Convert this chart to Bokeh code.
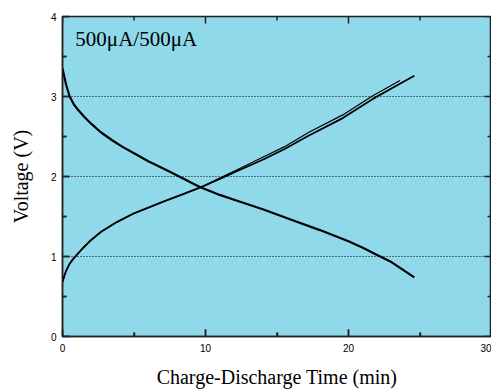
from bokeh.plotting import figure
from bokeh.models import Range1d, Label, FixedTicker
from bokeh.embed import file_html
from bokeh.resources import INLINE

# Discharge curves (time in min, voltage in V)
dis_t = [0.0, 0.1, 0.25, 0.5, 0.8, 1.1, 1.5, 2.0, 2.7, 3.5, 4.2, 5.0, 6.0, 7.4, 8.5, 9.6, 11.0, 12.0, 14.0, 16.0, 18.0, 20.0, 21.0, 22.0, 23.0, 24.0, 24.6]
dis_v = [3.35, 3.27, 3.15, 3.0, 2.9, 2.83, 2.75, 2.66, 2.55, 2.45, 2.37, 2.29, 2.19, 2.07, 1.97, 1.87, 1.77, 1.71, 1.59, 1.46, 1.33, 1.19, 1.11, 1.02, 0.93, 0.81, 0.74]

# Charge curves (two cycles)
ch1_t = [0.0, 0.1, 0.25, 0.5, 0.75, 1.0, 1.4, 1.9, 2.7, 3.8, 5.0, 6.0, 7.1, 8.3, 9.6, 11.0, 12.5, 14.0, 15.5, 17.2, 19.6, 21.7, 23.0, 24.6]
ch1_v = [0.68, 0.74, 0.82, 0.91, 0.97, 1.02, 1.10, 1.19, 1.31, 1.43, 1.54, 1.61, 1.69, 1.77, 1.86, 1.97, 2.09, 2.21, 2.34, 2.51, 2.73, 2.97, 3.10, 3.26]
ch2_t = [0.0, 0.1, 0.25, 0.5, 0.75, 1.0, 1.4, 1.9, 2.7, 3.8, 5.0, 6.0, 7.1, 8.3, 9.6, 11.0, 12.5, 14.0, 15.5, 17.2, 19.6, 21.7, 23.6]
ch2_v = [0.68, 0.74, 0.82, 0.91, 0.97, 1.02, 1.10, 1.19, 1.31, 1.43, 1.54, 1.61, 1.69, 1.77, 1.86, 1.98, 2.11, 2.24, 2.37, 2.55, 2.77, 3.01, 3.20]

x_min, x_max = 0, 30
y_min, y_max = 0, 4
x_major = [0, 10, 20, 30]
x_minor = [5, 15, 25]
y_major = [0, 1, 2, 3, 4]
y_minor = [0.5, 1.5, 2.5, 3.5]
grid_y = [1, 2, 3]

W, H = 491, 390
BL, BR, BT, BB = 62, 0, 16, 56
p = figure(width=W, height=H, output_backend="svg", toolbar_location=None,
           x_range=Range1d(x_min, x_max), y_range=Range1d(y_min, y_max),
           min_border_left=BL, min_border_right=BR, min_border_top=BT, min_border_bottom=50)
p.background_fill_color = "#8fd9ea"
p.border_fill_color = "white"
p.outline_line_color = "#222222"
p.outline_line_width = 1.5

p.xgrid.visible = False
p.ygrid.ticker = FixedTicker(ticks=grid_y)
p.ygrid.grid_line_color = "black"
p.ygrid.grid_line_dash = "1 2"
p.ygrid.grid_line_width = 1

bottom = p.below[0]
left = p.left[0]
for ax, major, minor in ((bottom, x_major, x_minor), (left, y_major, y_minor)):
    ax.ticker = FixedTicker(ticks=major, minor_ticks=minor)
    ax.major_tick_in = 7
    ax.major_tick_out = 0
    ax.minor_tick_in = 4
    ax.minor_tick_out = 0
    ax.major_tick_line_color = "#222222"
    ax.minor_tick_line_color = "#222222"
    ax.major_tick_line_width = 1.5
    ax.minor_tick_line_width = 1.5
    ax.axis_line_color = "#222222"
    ax.axis_line_width = 1.5
    ax.major_label_text_font = "Liberation Sans"
    ax.major_label_text_font_size = "10px"
    ax.major_label_text_color = "black"
    ax.axis_label_text_font = "Liberation Serif"
    ax.axis_label_text_font_size = "20px"
    ax.axis_label_text_font_style = "normal"
    ax.axis_label_text_color = "black"
bottom.major_label_standoff = 7
left.major_label_standoff = 6
bottom.axis_label = "Charge-Discharge Time (min)"
left.axis_label = "Voltage (V)"
bottom.axis_label_standoff = 11
left.axis_label_standoff = 16

# inward tick marks on top and right edges (and reinforcing bottom/left),
# lengths converted from pixels to data units
frame_w = W - BL - BR
frame_h = H - BT - BB
px_x = (x_max - x_min) / frame_w
px_y = (y_max - y_min) / frame_h
tick_col = "#222222"
for xs, L in ((x_major, 7), (x_minor, 4)):
    n = len(xs)
    p.segment(xs, [y_min] * n, xs, [y_min + L * px_y] * n, line_color=tick_col, line_width=1.5)
    p.segment(xs, [y_max] * n, xs, [y_max - L * px_y] * n, line_color=tick_col, line_width=1.5)
for ys, L in ((y_major, 7), (y_minor, 4)):
    n = len(ys)
    p.segment([x_min] * n, ys, [x_min + L * px_x] * n, ys, line_color=tick_col, line_width=1.5)
    p.segment([x_max] * n, ys, [x_max - L * px_x] * n, ys, line_color=tick_col, line_width=1.5)

p.line(dis_t, dis_v, line_color="black", line_width=2.2)
p.line(ch1_t, ch1_v, line_color="black", line_width=1.8)
p.line(ch2_t, ch2_v, line_color="black", line_width=1.2)

p.add_layout(Label(x=0.9, y=3.72, text="500μA/500μA", text_font="Liberation Serif",
                   text_font_size="21px", text_color="black", text_baseline="middle"))

open("out.html", "w").write(file_html(p, INLINE))
